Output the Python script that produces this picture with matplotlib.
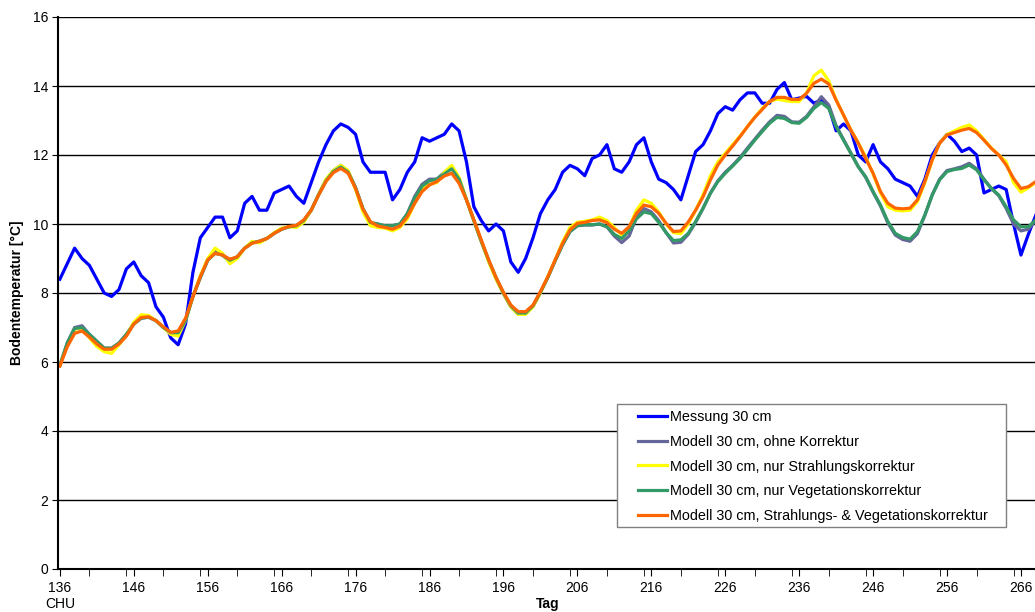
import matplotlib
matplotlib.use("Agg")
import matplotlib.pyplot as plt
import matplotlib.patches as mpatches
import numpy as np
from matplotlib.ticker import MultipleLocator

plt.rcParams['font.family'] = ['Liberation Sans', 'DejaVu Sans']

# Tag (day of year)
days = np.arange(136, 269)

messung = [8.4, 8.85, 9.3, 9.0, 8.8, 8.4, 8.0, 7.9, 8.1, 8.7,
           8.9, 8.5, 8.3, 7.6, 7.3, 6.7, 6.5, 7.1, 8.6, 9.6,
           9.9, 10.2, 10.2, 9.6, 9.8, 10.6, 10.8, 10.4, 10.4, 10.9,
           11.0, 11.1, 10.8, 10.6, 11.2, 11.8, 12.3, 12.7, 12.9, 12.8,
           12.6, 11.8, 11.5, 11.5, 11.5, 10.7, 11.0, 11.5, 11.8, 12.5,
           12.4, 12.5, 12.6, 12.9, 12.7, 11.8, 10.5, 10.1, 9.8, 10.0,
           9.8, 8.9, 8.6, 9.0, 9.6, 10.3, 10.7, 11.0, 11.5, 11.7,
           11.6, 11.4, 11.9, 12.0, 12.3, 11.6, 11.5, 11.8, 12.3, 12.5,
           11.8, 11.3, 11.2, 11.0, 10.7, 11.4, 12.1, 12.3, 12.7, 13.2,
           13.4, 13.3, 13.6, 13.8, 13.8, 13.5, 13.5, 13.9, 14.1, 13.6,
           13.65, 13.7, 13.5, 13.6, 13.4, 12.7, 12.9, 12.7, 12.0, 11.8,
           12.3, 11.8, 11.6, 11.3, 11.2, 11.1, 10.8, 11.3, 12.0, 12.35,
           12.6, 12.4, 12.1, 12.2, 12.0, 10.9, 11.0, 11.1, 11.0, 10.0,
           9.1, 9.7, 10.25]

ohne = [5.9, 6.55, 7.0, 7.05, 6.8, 6.6, 6.4, 6.4, 6.55, 6.8,
        7.1, 7.27, 7.3, 7.2, 7.0, 6.85, 6.85, 7.2, 7.9, 8.45,
        8.95, 9.2, 9.1, 8.9, 9.05, 9.3, 9.45, 9.5, 9.58, 9.73,
        9.85, 9.92, 9.95, 10.1, 10.4, 10.85, 11.28, 11.55, 11.7, 11.52,
        11.05, 10.42, 10.02, 10.0, 9.93, 9.95, 10.0, 10.3, 10.8, 11.15,
        11.3, 11.3, 11.5, 11.65, 11.3, 10.7, 10.1, 9.5, 8.95, 8.42,
        7.98, 7.6, 7.38, 7.4, 7.62, 8.02, 8.45, 8.94, 9.4, 9.78,
        9.95, 9.97, 9.97, 10.0, 9.92, 9.65, 9.46, 9.65, 10.2, 10.45,
        10.35, 10.1, 9.75, 9.45, 9.47, 9.7, 10.05, 10.45, 10.9, 11.25,
        11.5, 11.7, 11.93, 12.2, 12.46, 12.72, 12.96, 13.15, 13.12, 12.96,
        12.95, 13.12, 13.4, 13.69, 13.45, 12.85, 12.45, 12.05, 11.66, 11.35,
        10.92, 10.52, 10.03, 9.68, 9.55, 9.5, 9.72, 10.25, 10.85, 11.3,
        11.55, 11.6, 11.66, 11.76, 11.6, 11.3, 11.03, 10.82, 10.45, 10.0,
        9.8, 9.85, 10.1]

strahlung = [5.9, 6.5, 6.95, 6.98, 6.7, 6.45, 6.3, 6.25, 6.5, 6.78,
             7.15, 7.37, 7.35, 7.2, 7.0, 6.8, 6.75, 7.2, 7.9, 8.5,
             9.0, 9.3, 9.15, 8.85, 9.0, 9.3, 9.5, 9.45, 9.58, 9.75,
             9.88, 9.92, 9.9, 10.05, 10.4, 10.85, 11.3, 11.55, 11.7, 11.55,
             11.0, 10.35, 9.95, 9.9, 9.88, 9.8, 9.9, 10.15, 10.6, 11.0,
             11.15, 11.2, 11.5, 11.7, 11.35, 10.7, 10.1, 9.5, 8.9, 8.4,
             7.98, 7.6, 7.38, 7.38, 7.6, 8.0, 8.47, 8.96, 9.48, 9.9,
             10.05, 10.08, 10.12, 10.2, 10.1, 9.9, 9.68, 9.9, 10.4, 10.7,
             10.6, 10.35, 10.0, 9.75, 9.72, 10.0, 10.4, 10.85, 11.4, 11.8,
             12.05, 12.3, 12.55, 12.82, 13.1, 13.35, 13.55, 13.62, 13.58, 13.55,
             13.55, 13.8, 14.3, 14.46, 14.15, 13.6, 13.15, 12.72, 12.35, 11.95,
             11.45, 10.9, 10.5, 10.4, 10.38, 10.4, 10.65, 11.2, 11.85, 12.35,
             12.6, 12.7, 12.8, 12.87, 12.7, 12.45, 12.2, 12.0, 11.8, 11.2,
             10.92, 11.05, 11.2]

vegetation = [5.9, 6.55, 6.97, 7.0, 6.8, 6.6, 6.4, 6.4, 6.55, 6.8,
              7.1, 7.27, 7.3, 7.2, 7.0, 6.85, 6.85, 7.2, 7.9, 8.45,
              8.95, 9.15, 9.1, 8.95, 9.05, 9.3, 9.45, 9.5, 9.58, 9.73,
              9.85, 9.92, 9.95, 10.1, 10.4, 10.85, 11.25, 11.52, 11.65, 11.5,
              11.05, 10.45, 10.05, 10.0, 9.95, 9.95, 10.0, 10.3, 10.75, 11.1,
              11.25, 11.3, 11.45, 11.6, 11.3, 10.7, 10.1, 9.5, 8.95, 8.45,
              8.0, 7.63, 7.42, 7.42, 7.63, 8.02, 8.45, 8.94, 9.4, 9.78,
              9.95, 9.98, 9.98, 10.0, 9.92, 9.7, 9.58, 9.8, 10.15, 10.35,
              10.3, 10.05, 9.75, 9.52, 9.54, 9.73, 10.07, 10.46, 10.89, 11.23,
              11.47, 11.68, 11.9, 12.16, 12.43, 12.68, 12.92, 13.09, 13.06, 12.94,
              12.92, 13.09, 13.35, 13.52, 13.35, 12.82, 12.43, 12.05, 11.66, 11.37,
              10.94, 10.55, 10.07, 9.73, 9.61, 9.56, 9.78, 10.26, 10.84, 11.28,
              11.52, 11.58, 11.61, 11.71, 11.57, 11.28, 11.03, 10.84, 10.5, 10.12,
              9.92, 9.92, 10.12]

beide = [5.88, 6.44, 6.83, 6.9, 6.72, 6.52, 6.37, 6.37, 6.52, 6.75,
         7.1, 7.29, 7.31, 7.2, 7.02, 6.86, 6.9, 7.27, 7.89, 8.47,
         8.96, 9.15, 9.1, 8.98, 9.05, 9.3, 9.44, 9.5, 9.58, 9.73,
         9.85, 9.93, 9.96, 10.12, 10.4, 10.84, 11.23, 11.49, 11.61, 11.47,
         11.03, 10.43, 10.07, 9.94, 9.9, 9.85, 9.94, 10.21, 10.6, 10.94,
         11.13, 11.23, 11.39, 11.47, 11.18, 10.7, 10.12, 9.54, 8.96, 8.45,
         8.02, 7.65, 7.46, 7.46, 7.65, 8.04, 8.47, 8.96, 9.44, 9.83,
         10.02, 10.05, 10.1, 10.12, 10.04, 9.85, 9.73, 9.92, 10.31, 10.55,
         10.5, 10.31, 10.02, 9.78, 9.8, 10.06, 10.4, 10.79, 11.28, 11.71,
         12.0, 12.26, 12.53, 12.82, 13.09, 13.32, 13.55, 13.67, 13.67, 13.61,
         13.61, 13.79, 14.08, 14.2, 14.06, 13.59, 13.16, 12.72, 12.34, 11.9,
         11.47, 10.94, 10.6, 10.46, 10.44, 10.46, 10.7, 11.23, 11.86, 12.34,
         12.58, 12.65, 12.72, 12.77, 12.65, 12.43, 12.19, 12.0, 11.71, 11.32,
         11.03, 11.08, 11.23]

labels = ["Messung 30 cm",
          "Modell 30 cm, ohne Korrektur",
          "Modell 30 cm, nur Strahlungskorrektur",
          "Modell 30 cm, nur Vegetationskorrektur",
          "Modell 30 cm, Strahlungs- & Vegetationskorrektur"]
colors = ["#0000FF", "#666699", "#FFFF00", "#339966", "#FF6600"]

W, H = 1035, 612
fig = plt.figure(figsize=(W / 100, H / 100), dpi=100)
ax = fig.add_axes([58 / W, 43 / H, 977 / W, 552 / H])

series = [messung, ohne, strahlung, vegetation, beide]
lines = []
for vals, col, lab in zip(series, colors, labels):
    ln, = ax.plot(days, vals, color=col, lw=2.3, label=lab, solid_joinstyle='round')
    lines.append(ln)

ax.set_ylim(0, 16)
ax.set_xlim(135.75, 267.9)
ax.yaxis.set_major_locator(MultipleLocator(2))
ax.set_xticks(np.arange(136, 267, 10))
ax.xaxis.set_minor_locator(MultipleLocator(5))
ax.grid(axis='y', color='black', lw=1)
ax.set_axisbelow(True)

for s in ['top', 'right']:
    ax.spines[s].set_visible(False)
ax.spines['left'].set_linewidth(1.5)
ax.spines['bottom'].set_linewidth(1.5)

ax.tick_params(axis='y', direction='out', length=4, labelsize=10, pad=3)
ax.tick_params(axis='x', which='both', direction='out', length=5, labelsize=10, pad=4)

ax.set_ylabel("Bodentemperatur [°C]", fontsize=10, fontweight='bold', labelpad=6)
fig.text(548 / W, 1 - 604 / H, "Tag", fontsize=10, fontweight='bold',
         ha='center', va='center')
fig.text(60 / W, 1 - 604 / H, "CHU", fontsize=10, ha='center', va='center')

# legend frame (Excel style: wide side padding)
box = mpatches.Rectangle((617 / W, 1 - 527 / H), 389 / W, 123 / H,
                         transform=fig.transFigure, facecolor='white',
                         edgecolor='#808080', lw=1.0, zorder=4, clip_on=False)
ax.add_patch(box)

leg = ax.legend(handles=lines, loc='center left',
                bbox_to_anchor=(638 / W, 1 - 466.5 / H),
                bbox_transform=fig.transFigure, fontsize=10.35,
                frameon=False, borderaxespad=0, borderpad=0,
                labelspacing=0.74, handlelength=2.0, handletextpad=0.2)
leg.set_zorder(5)

fig.savefig("out.png", dpi=100)
